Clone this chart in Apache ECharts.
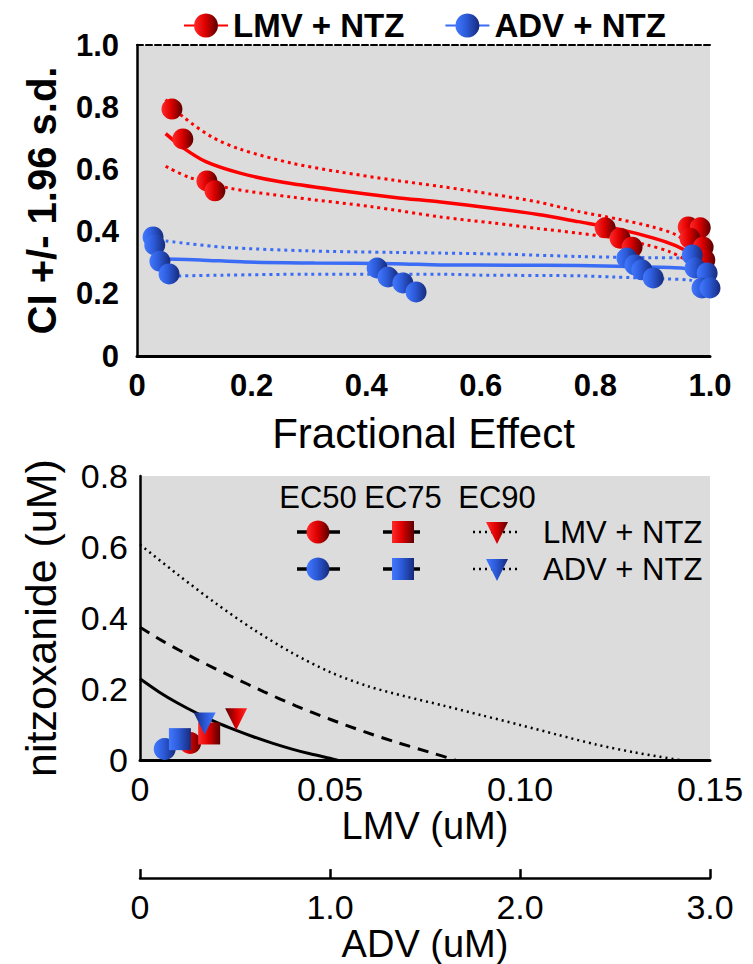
<!DOCTYPE html>
<html><head><meta charset="utf-8">
<script src="https://cdn.jsdelivr.net/npm/echarts@6/dist/echarts.min.js"></script>
<style>html,body{margin:0;padding:0;background:#fff}#c{width:753px;height:964px}</style>
</head><body><div id="c"></div>
<script>
const FONT = '"Liberation Sans", Arial, sans-serif';

// ---------- Top panel: CI (+/- 1.96 s.d.) vs fractional effect ----------
const lmvFE = [0.061, 0.080, 0.122, 0.136, 0.817, 0.843, 0.864, 0.962, 0.983, 0.965, 0.988, 0.991];
const lmvCI = [0.794, 0.698, 0.563, 0.531, 0.412, 0.379, 0.350, 0.415, 0.412, 0.379, 0.350, 0.309];
const advFE = [0.028, 0.031, 0.040, 0.056, 0.419, 0.438, 0.464, 0.487, 0.855, 0.869, 0.881, 0.901, 0.969, 0.974, 0.995, 0.986, 1.0];
const advCI = [0.383, 0.357, 0.305, 0.264, 0.283, 0.254, 0.235, 0.206, 0.315, 0.293, 0.277, 0.251, 0.325, 0.283, 0.267, 0.219, 0.219];

const lmvFitX = [0.05, 0.08, 0.12, 0.18, 0.25, 0.35, 0.45, 0.53, 0.62, 0.70, 0.77, 0.84, 0.90, 0.94, 0.97, 0.99];
const lmvFitY = [0.715, 0.67, 0.625, 0.588, 0.56, 0.533, 0.51, 0.495, 0.475, 0.455, 0.432, 0.408, 0.38, 0.355, 0.325, 0.29];
const lmvUpX = [0.05, 0.08, 0.13, 0.18, 0.27, 0.35, 0.45, 0.53, 0.62, 0.70, 0.77, 0.84, 0.90, 0.94, 0.97, 0.985];
const lmvUpY = [0.825, 0.77, 0.705, 0.665, 0.62, 0.593, 0.565, 0.545, 0.52, 0.495, 0.465, 0.44, 0.415, 0.39, 0.35, 0.31];
const lmvLoX = [0.05, 0.09, 0.16, 0.27, 0.41, 0.53, 0.62, 0.70, 0.77, 0.83, 0.89, 0.93, 0.96, 0.975];
const lmvLoY = [0.61, 0.575, 0.54, 0.511, 0.48, 0.447, 0.428, 0.41, 0.395, 0.38, 0.357, 0.335, 0.305, 0.27];

const advFitX = [0.05, 0.11, 0.19, 0.31, 0.45, 0.53, 0.65, 0.77, 0.86, 0.95, 0.97];
const advFitY = [0.312, 0.309, 0.302, 0.299, 0.297, 0.293, 0.292, 0.291, 0.288, 0.283, 0.275];
const advUpX = [0.05, 0.15, 0.30, 0.45, 0.53, 0.65, 0.77, 0.90, 0.95, 0.97];
const advUpY = [0.37, 0.35, 0.338, 0.333, 0.331, 0.327, 0.32, 0.316, 0.315, 0.31];
const advLoX = [0.06, 0.15, 0.30, 0.53, 0.60, 0.77, 0.83, 0.92, 0.965, 0.98];
const advLoY = [0.257, 0.26, 0.263, 0.263, 0.26, 0.258, 0.254, 0.248, 0.244, 0.235];

const topXTicks = [0, 0.2, 0.4, 0.6, 0.8, 1.0];
const topYTicks = [0, 0.2, 0.4, 0.6, 0.8, 1.0];

// ---------- Bottom panel: isobologram ----------
const ec50X = [0, 0.005, 0.01, 0.015, 0.02, 0.025, 0.03, 0.035, 0.04, 0.045, 0.05, 0.052];
const ec50Y = [0.229, 0.192, 0.16, 0.132, 0.107, 0.085, 0.065, 0.047, 0.031, 0.017, 0.005, 0];
const ec75X = [0, 0.006, 0.015, 0.024, 0.0325, 0.041, 0.05, 0.059, 0.0675, 0.0763, 0.083];
const ec75Y = [0.374, 0.335, 0.283, 0.236, 0.193, 0.153, 0.115, 0.08, 0.05, 0.022, 0];
const ec90X = [0, 0.01, 0.02, 0.03, 0.04, 0.05, 0.06, 0.07, 0.08, 0.09, 0.10, 0.11, 0.12, 0.13, 0.142];
const ec90Y = [0.607, 0.522, 0.441, 0.367, 0.302, 0.248, 0.208, 0.179, 0.153, 0.126, 0.099, 0.071, 0.044, 0.022, 0];

const ecLabels = ['EC50', 'EC75', 'EC90'];
const lmvComboLMV = [0.0132, 0.0182, 0.0253];   // LMV (uM)
const lmvComboNTZ = [0.048, 0.075, 0.115];
const advComboADV = [0.13, 0.21, 0.34];         // ADV (uM)
const advComboNTZ = [0.031, 0.059, 0.103];
const seriesNames = ['LMV + NTZ', 'ADV + NTZ'];

const lmvTicks = [0, 0.05, 0.10, 0.15];
const advTicks = [0, 1.0, 2.0, 3.0];
const ntzTicks = [0, 0.2, 0.4, 0.6, 0.8];

// ---------- styles ----------
const RED = '#ff0000', BLUE = '#3b6cf5';
const ecSymbols = ['circle', 'rect', 'triangle'];
const ecRotate = [0, 0, 180];
function redGrad() {
  return new echarts.graphic.LinearGradient(0, 0, 1, 0, [
    {offset: 0, color: '#ff2a2a'}, {offset: 0.45, color: '#e00000'}, {offset: 1, color: '#5a0000'}]);
}
function blueGrad() {
  return new echarts.graphic.LinearGradient(0, 0, 1, 0, [
    {offset: 0, color: '#4279ff'}, {offset: 0.45, color: '#2c5ad8'}, {offset: 1, color: '#162a7a'}]);
}
const zip = (a, b) => a.map((v, i) => [v, b[i]]);
const f1 = v => Math.abs(v) < 1e-9 ? '0' : v.toFixed(1);
const f2 = v => Math.abs(v) < 1e-9 ? '0' : v.toFixed(2);
const blk = '#000';

const chart = echarts.init(document.getElementById('c'), null, {renderer: 'svg', width: 753, height: 964});

function fitLine(name, x, y, color, width, type, grad) {
  return {
    type: 'line', name: name, xAxisIndex: 0, yAxisIndex: 0,
    data: zip(x, y), smooth: 0.3,
    symbol: grad ? 'circle' : 'none', showSymbol: false, symbolSize: 20,
    itemStyle: {color: grad || color},
    lineStyle: {color: color, width: width, type: type},
    z: 2, silent: true
  };
}
function isoLine(x, y, width, type) {
  return {
    type: 'line', xAxisIndex: 2, yAxisIndex: 1, data: zip(x, y),
    smooth: 0.3, symbol: 'none',
    lineStyle: {color: blk, width: width, type: type}, z: 2, silent: true
  };
}
function comboData(x, y) {
  return x.map((v, i) => ({value: [v, y[i]], symbol: ecSymbols[i], symbolRotate: ecRotate[i]}));
}

// ---------- bottom legend (graphic) ----------
const colX = [318, 403, 497];
const lineSpan = [[297, 340], [383, 425], [473, 517]];
const lineDash = [null, [9, 5], [2, 4]];
const rowY = [532, 569];
const headY = 497;
const g = [];
ecLabels.forEach((t, i) => g.push({type: 'text', x: colX[i], y: headY, z: 50,
  style: {text: t, fontSize: 31, fontFamily: FONT, fill: blk, align: 'center', verticalAlign: 'middle'}}));
[redGrad, blueGrad].forEach((gf, r) => {
  const y = rowY[r];
  for (let i = 0; i < 3; i++) {
    g.push({type: 'line', z: 50, shape: {x1: lineSpan[i][0], y1: y, x2: lineSpan[i][1], y2: y},
      style: {stroke: blk, lineWidth: i === 2 ? 2.5 : 3.5, lineDash: lineDash[i]}});
  }
  g.push({type: 'circle', z: 51, shape: {cx: colX[0], cy: y, r: 11.5}, style: {fill: gf()}});
  g.push({type: 'rect', z: 51, shape: {x: colX[1] - 11, y: y - 11, width: 22, height: 22}, style: {fill: gf()}});
  g.push({type: 'polygon', z: 51, shape: {points: [[colX[2] - 11, y - 10], [colX[2] + 11, y - 10], [colX[2], y + 12]]}, style: {fill: gf()}});
  g.push({type: 'text', x: 543, y: y, z: 50,
    style: {text: seriesNames[r], fontSize: 31, fontFamily: FONT, fill: blk, align: 'left', verticalAlign: 'middle'}});
});

const option = {
  animation: false,
  backgroundColor: '#ffffff',
  textStyle: {fontFamily: FONT},
  legend: {
    top: 4, left: 178, itemWidth: 44, itemHeight: 30, itemGap: 40,
    data: seriesNames,
    textStyle: {fontFamily: FONT, fontWeight: 'bold', fontSize: 33, color: blk},
    selectedMode: false
  },
  grid: [
    {left: 137, top: 45, width: 573, height: 311, show: true, backgroundColor: '#dcdcdc', borderWidth: 0},
    {left: 140, top: 476, width: 570, height: 286, show: true, backgroundColor: '#dcdcdc', borderWidth: 0}
  ],
  xAxis: [
    {gridIndex: 0, type: 'value', min: 0, max: 1, interval: 0.2, position: 'bottom',
      axisLine: {lineStyle: {color: blk, width: 3}}, axisTick: {show: false}, splitLine: {show: false},
      axisLabel: {formatter: f1, color: blk, fontWeight: 'bold', fontSize: 31, fontFamily: FONT, margin: 14},
      name: 'Fractional Effect', nameLocation: 'middle', nameGap: 56,
      nameTextStyle: {fontSize: 42, color: blk, fontFamily: FONT}},
    {gridIndex: 0, type: 'value', min: 0, max: 1, position: 'top',
      axisLine: {lineStyle: {color: blk, width: 2, type: [6, 3]}}, axisTick: {show: false},
      axisLabel: {show: false}, splitLine: {show: false}},
    {gridIndex: 1, type: 'value', min: 0, max: 0.15, interval: 0.05, position: 'bottom',
      axisLine: {lineStyle: {color: blk, width: 3}}, axisTick: {show: false}, splitLine: {show: false},
      axisLabel: {formatter: f2, color: blk, fontSize: 34, fontFamily: FONT, margin: 12},
      name: 'LMV (uM)', nameLocation: 'middle', nameGap: 47,
      nameTextStyle: {fontSize: 38, color: blk, fontFamily: FONT}},
    {gridIndex: 1, type: 'value', min: 0, max: 3, interval: 1, position: 'bottom', offset: 118,
      axisLine: {lineStyle: {color: blk, width: 2.5}},
      axisTick: {show: true, inside: true, length: 9, lineStyle: {color: blk, width: 2.5}}, splitLine: {show: false},
      axisLabel: {formatter: f1, color: blk, fontSize: 34, fontFamily: FONT, margin: 12},
      name: 'ADV (uM)', nameLocation: 'middle', nameGap: 43,
      nameTextStyle: {fontSize: 38, color: blk, fontFamily: FONT}}
  ],
  yAxis: [
    {gridIndex: 0, type: 'value', min: 0, max: 1, interval: 0.2,
      axisLine: {show: true, lineStyle: {color: blk, width: 2.5}}, axisTick: {show: false}, splitLine: {show: false},
      axisLabel: {formatter: f1, color: blk, fontWeight: 'bold', fontSize: 31, fontFamily: FONT, margin: 18},
      name: 'CI +/- 1.96 s.d.', nameLocation: 'middle', nameGap: 75,
      nameTextStyle: {fontSize: 40, fontWeight: 'bold', color: blk, fontFamily: FONT}},
    {gridIndex: 1, type: 'value', min: 0, max: 0.8, interval: 0.2,
      axisLine: {show: true, lineStyle: {color: blk, width: 2.5}}, axisTick: {show: false}, splitLine: {show: false},
      axisLabel: {formatter: f1, color: blk, fontSize: 34, fontFamily: FONT, margin: 12},
      name: 'nitzoxanide (uM)', nameLocation: 'middle', nameGap: 78,
      nameTextStyle: {fontSize: 43, color: blk, fontFamily: FONT}}
  ],
  graphic: g,
  series: [
    fitLine(seriesNames[0], lmvFitX, lmvFitY, RED, 3.5, 'solid', redGrad()),
    fitLine(seriesNames[1], advFitX, advFitY, BLUE, 3.5, 'solid', blueGrad()),
    fitLine('lmvUpper', lmvUpX, lmvUpY, RED, 3, [3, 4], null),
    fitLine('lmvLower', lmvLoX, lmvLoY, RED, 3, [3, 4], null),
    fitLine('advUpper', advUpX, advUpY, BLUE, 3, [3, 4], null),
    fitLine('advLower', advLoX, advLoY, BLUE, 3, [3, 4], null),
    {type: 'scatter', name: seriesNames[0], xAxisIndex: 0, yAxisIndex: 0, data: zip(lmvFE, lmvCI),
      symbol: 'circle', symbolSize: 21, itemStyle: {color: redGrad(), opacity: 1}, z: 3, silent: true},
    {type: 'scatter', name: seriesNames[1], xAxisIndex: 0, yAxisIndex: 0, data: zip(advFE, advCI),
      symbol: 'circle', symbolSize: 21, itemStyle: {color: blueGrad(), opacity: 1}, z: 4, silent: true},
    isoLine(ec50X, ec50Y, 3, 'solid'),
    isoLine(ec75X, ec75Y, 3, [11, 8]),
    isoLine(ec90X, ec90Y, 2.5, [2, 4]),
    {type: 'scatter', name: 'LMV combo', xAxisIndex: 2, yAxisIndex: 1, data: comboData(lmvComboLMV, lmvComboNTZ),
      symbolSize: 22, itemStyle: {color: redGrad(), opacity: 1}, z: 3, silent: true},
    {type: 'scatter', name: 'ADV combo', xAxisIndex: 3, yAxisIndex: 1, data: comboData(advComboADV, advComboNTZ),
      symbolSize: 22, itemStyle: {color: blueGrad(), opacity: 1}, z: 4, silent: true}
  ]
};
chart.setOption(option);
</script>
</body></html>
